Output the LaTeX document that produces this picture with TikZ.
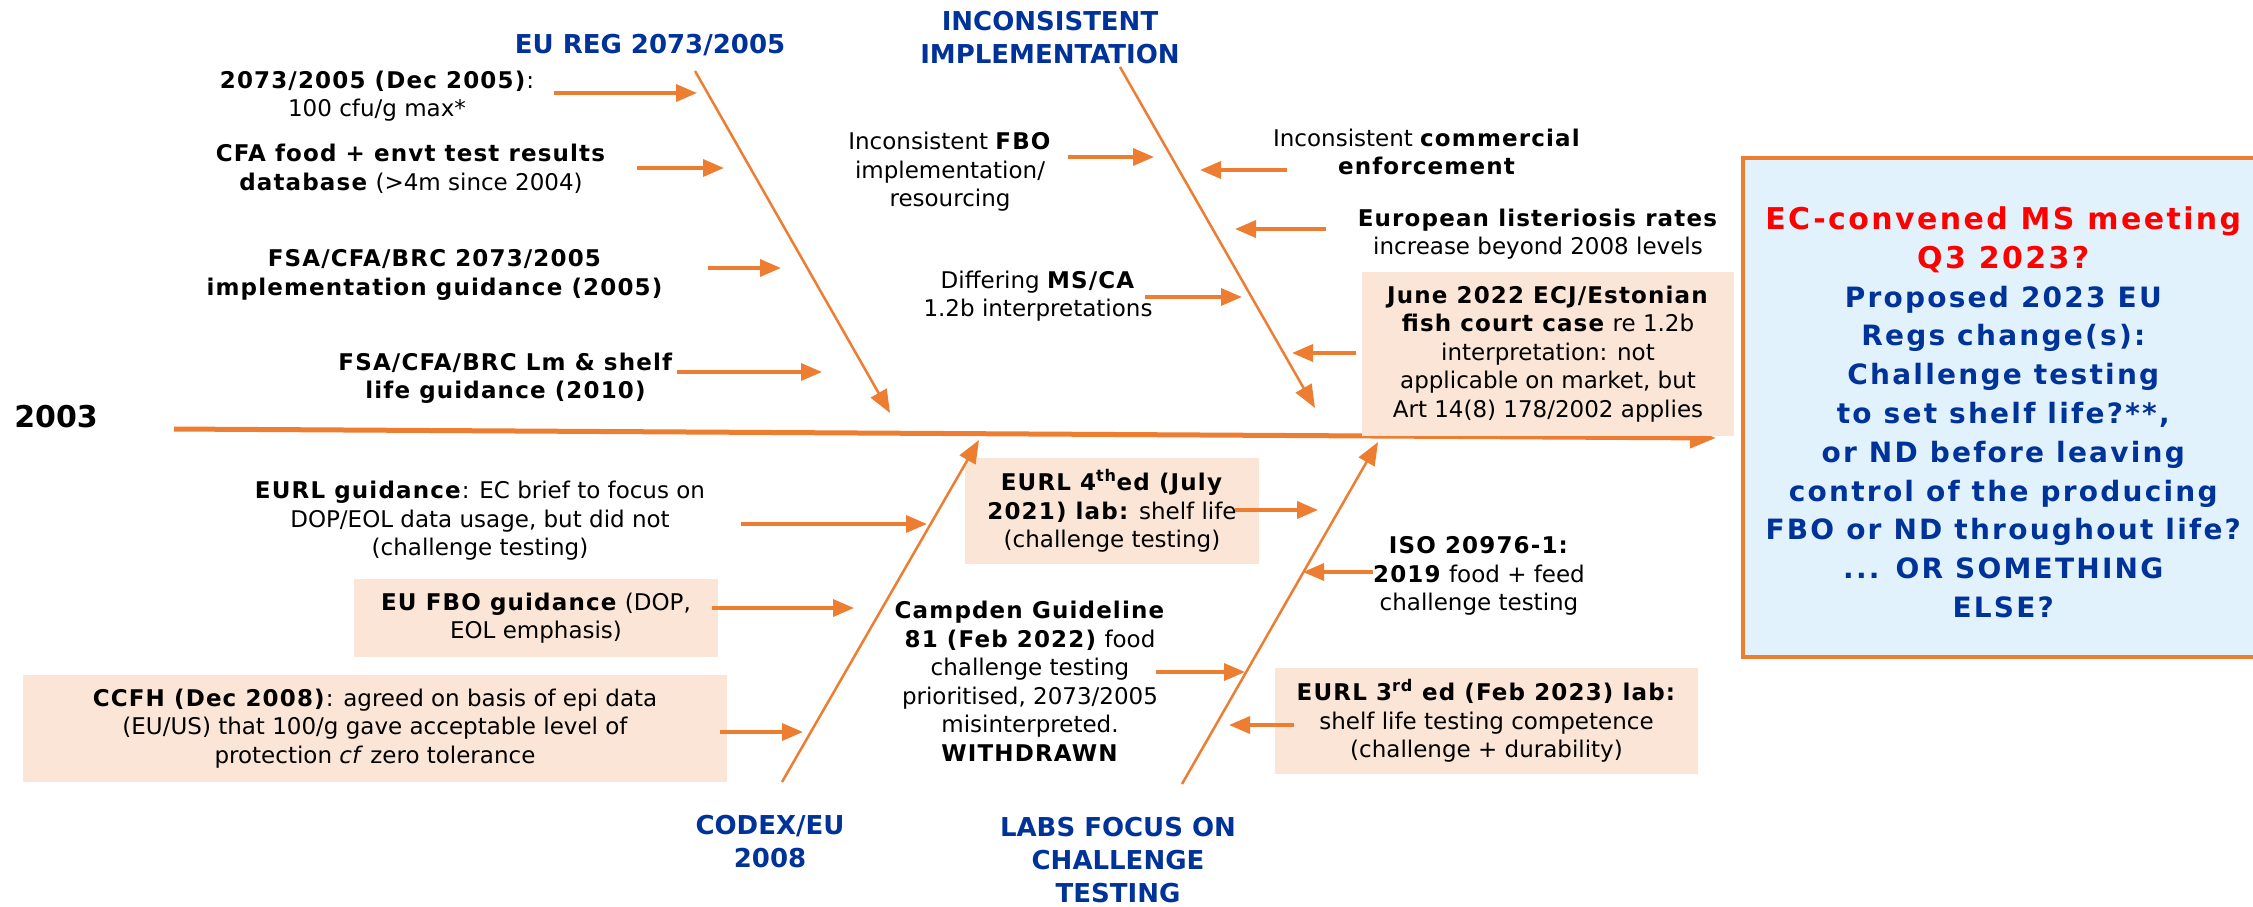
\documentclass[tikz,border=0pt]{standalone}
\usepackage{fontspec}
\setmainfont{DejaVu Sans}[BoldFeatures={LetterSpace=5}]
\newfontfamily\headfont{DejaVu Sans}
\newfontfamily\goalfont{DejaVu Sans}[LetterSpace=8]
\usetikzlibrary{positioning,arrows.meta}
\definecolor{fishorange}{HTML}{ED7D31}
\definecolor{peach}{HTML}{FBE5D6}
\definecolor{regblue}{HTML}{003399}
\definecolor{goalblue}{HTML}{E1F2FC}
\begin{document}
\begin{tikzpicture}[x=1pt,y=-1pt]
\tikzstyle{cause}=[align=center,inner sep=0pt,font=\fontsize{23}{28.5}\selectfont]
\tikzstyle{note}=[cause,fill=peach]
\tikzstyle{head}=[align=center,inner sep=0pt,text=regblue,font=\headfont\fontsize{26}{33}\selectfont\bfseries]
\tikzstyle{bone}=[draw=fishorange,line width=2.5pt,-{Triangle[length=23pt,width=18pt]}]
\tikzstyle{feed}=[draw=fishorange,line width=3.5pt,-{Triangle[length=21pt,width=17pt]}]
\tikzstyle{goal}=[draw=fishorange,line width=3.5pt,fill=goalblue,anchor=north west,
  minimum width=521pt,minimum height=499pt,align=center,text=regblue,
  font=\goalfont\fontsize{28}{38.8}\selectfont\bfseries]
\useasboundingbox (0,0) rectangle (2253,906);

\coordinate (spS) at (174,429);
\coordinate (spE) at (1716,438);
\draw[draw=fishorange,line width=5pt,-{Triangle[length=26pt,width=20pt]}] (spS) -- (spE);

\node[goal] (goal) at (1741,156) {\rule{0pt}{33pt}{\fontsize{30}{38.8}\selectfont\textcolor{red}{EC-convened MS meeting}}\\
  {\fontsize{30}{38.8}\selectfont\textcolor{red}{Q3 2023?}}\\
  Proposed 2023 EU\\Regs change(s):\\Challenge testing\\to set shelf life?**,\\or ND before leaving\\
  control of the producing\\FBO or ND throughout life?\\... OR SOMETHING\\ELSE?};

\node[cause,font=\headfont\fontsize{30}{36}\selectfont\bfseries] (yr) at (56,417) {2003};

\node[head] (reg) at (650,45) {EU REG 2073/2005};
\node[head] (incon) at (1050,38) {INCONSISTENT\\IMPLEMENTATION};
\node[head] (codex) at (770,842) {CODEX/EU\\2008};
\node[head] (labs) at (1118,860) {LABS FOCUS ON\\CHALLENGE\\TESTING};

\node[cause] (t1) at (377,96) {\textbf{2073/2005 (Dec 2005)}:\\100 cfu/g max*};
\node[cause] (t2) at (411,169) {\textbf{CFA food + envt test results}\\\textbf{database} (>4m since 2004)};
\node[cause] (t3) at (435,275) {\textbf{FSA/CFA/BRC 2073/2005}\\\textbf{implementation guidance (2005)}};
\node[cause] (t4) at (506,378) {\textbf{FSA/CFA/BRC Lm \& shelf}\\\textbf{life guidance (2010)}};

\node[cause] (fbo) at (950,172) {Inconsistent \textbf{FBO}\\implementation/\\resourcing};
\node[cause] (comm) at (1427,152) {Inconsistent \textbf{commercial}\\\textbf{enforcement}};
\node[cause] (euro) at (1538,234) {\textbf{European listeriosis rates}\\increase beyond 2008 levels};
\node[cause] (msca) at (1038,296) {Differing \textbf{MS/CA}\\1.2b interpretations};
\node[note,minimum width=372pt,minimum height=164pt] (june) at (1548,354)
  {\textbf{June 2022 ECJ/Estonian}\\\textbf{fish court case} re 1.2b\\interpretation: not\\applicable on market, but\\Art 14(8) 178/2002 applies};

\node[cause] (eurl) at (480,521) {\textbf{EURL guidance}: EC brief to focus on\\DOP/EOL data usage, but did not\\(challenge testing)};
\node[note,minimum width=364pt,minimum height=78pt] (eufbo) at (536,618) {\textbf{EU FBO guidance} (DOP,\\EOL emphasis)};
\node[note,minimum width=704pt,minimum height=107pt] (ccfh) at (375,728.5)
  {\textbf{CCFH (Dec 2008)}: agreed on basis of epi data\\(EU/US) that 100/g gave acceptable level of\\protection \emph{cf} zero tolerance};

\node[note,minimum width=294pt,minimum height=106pt] (eurlf) at (1112,511)
  {\textbf{EURL 4\textsuperscript{th}ed (July}\\\textbf{2021) lab:} shelf life\\(challenge testing)};
\node[cause] (iso) at (1479,576) {\textbf{ISO 20976-1:}\\\textbf{2019} food + feed\\challenge testing};
\node[cause] (camp) at (1030,681) {\textbf{Campden Guideline}\\\textbf{81 (Feb 2022)} food\\challenge testing\\prioritised, 2073/2005\\misinterpreted.\\\textbf{WITHDRAWN}};
\node[note,minimum width=423pt,minimum height=106pt] (eurlt) at (1486.5,721)
  {\textbf{EURL 3\textsuperscript{rd} ed (Feb 2023) lab:}\\shelf life testing competence\\(challenge + durability)};

\coordinate (b1s) at (695,71);
\coordinate (b1e) at (890,413);
\coordinate (b2s) at (1120,67);
\coordinate (b2e) at (1315,408);
\coordinate (b3s) at (782,782);
\coordinate (b3e) at (979,440);
\coordinate (b4s) at (1182,784);
\coordinate (b4e) at (1378,442);
\draw[bone] (b1s) -- (b1e);
\draw[bone] (b2s) -- (b2e);
\draw[bone] (b3s) -- (b3e);
\draw[bone] (b4s) -- (b4e);

\coordinate (p1) at (697,93);
\coordinate (p2) at (724,168);
\coordinate (p3) at (781,268);
\coordinate (p4) at (822,372);
\coordinate (q1) at (1154,157);
\coordinate (q2) at (1200,170);
\coordinate (q3) at (1235,229);
\coordinate (q4) at (1242,297);
\coordinate (q5) at (1292,353);
\coordinate (r1) at (927,524);
\coordinate (r2) at (854,608);
\coordinate (r3) at (803,732);
\coordinate (s1) at (1318,510);
\coordinate (s2) at (1303,572);
\coordinate (s3) at (1245,672);
\coordinate (s4) at (1229,725);

\draw[feed,shorten <=20pt] (t1.east |- p1) -- (p1);
\draw[feed,shorten <=31pt] (t2.east |- p2) -- (p2);
\draw[feed,shorten <=44pt] (t3.east |- p3) -- (p3);
\draw[feed,shorten <=3pt] (t4.east |- p4) -- (p4);
\draw[feed,shorten <=16pt] (fbo.east |- q1) -- (q1);
\draw[feed,shorten <=-14pt] (comm.west |- q2) -- (q2);
\draw[feed,shorten <=32pt] (euro.west |- q3) -- (q3);
\draw[feed,shorten <=-8pt] (msca.east |- q4) -- (q4);
\draw[feed,shorten <=6pt] (june.west |- q5) -- (q5);
\draw[feed,shorten <=36pt] (eurl.east |- r1) -- (r1);
\draw[feed,shorten <=-6pt] (eufbo.east |- r2) -- (r2);
\draw[feed,shorten <=-7pt] (ccfh.east |- r3) -- (r3);
\draw[feed,shorten <=-24pt] (eurlf.east |- s1) -- (s1);
\draw[feed] (iso.west |- s2) -- (s2);
\draw[feed,shorten <=-10pt] (camp.east |- s3) -- (s3);
\draw[feed,shorten <=-19pt] (eurlt.west |- s4) -- (s4);
\end{tikzpicture}
\end{document}
